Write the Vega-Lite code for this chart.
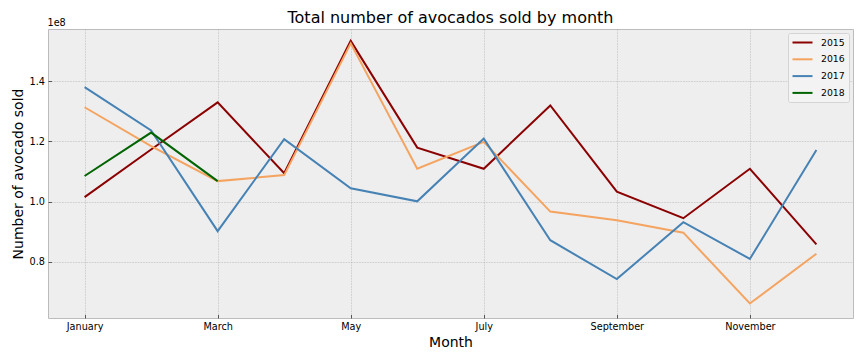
{
  "$schema": "https://vega.github.io/schema/vega-lite/v6.json",
  "autosize": {"type": "none"},
  "width": 805,
  "height": 289,
  "padding": {"left": 48, "top": 29, "right": 11, "bottom": 42},
  "background": "white",
  "title": {
    "text": "Total number of avocados sold by month",
    "font": "DejaVu Sans",
    "fontSize": 16,
    "fontWeight": "normal",
    "color": "#000000",
    "frame": "group",
    "anchor": "middle",
    "baseline": "alphabetic",
    "offset": 6,
    "dy": 27.5
  },
  "config": {
    "view": {"fill": "#eeeeee", "stroke": "#bcbcbc", "strokeWidth": 1},
    "axis": {
      "labelFont": "DejaVu Sans",
      "labelFontSize": 9.7,
      "labelColor": "#000000",
      "titleFont": "DejaVu Sans",
      "titleFontSize": 14,
      "titleFontWeight": "normal",
      "titleColor": "#000000",
      "domain": false,
      "gridColor": "#b2b2b2",
      "gridDash": [1.8, 0.9],
      "gridWidth": 0.5,
      "tickColor": "#333333",
      "tickWidth": 0.8,
      "tickSize": -3.5,
      "labelPadding": 7
    },
    "legend": {
      "labelFont": "DejaVu Sans",
      "labelFontSize": 9.3,
      "labelColor": "#000000"
    }
  },
  "data": {
    "values": [
      {"month": 1, "year": "2015", "value": 101500000},
      {"month": 2, "year": "2015", "value": 117300000},
      {"month": 3, "year": "2015", "value": 132900000},
      {"month": 4, "year": "2015", "value": 109400000},
      {"month": 5, "year": "2015", "value": 153300000},
      {"month": 6, "year": "2015", "value": 117900000},
      {"month": 7, "year": "2015", "value": 110900000},
      {"month": 8, "year": "2015", "value": 131900000},
      {"month": 9, "year": "2015", "value": 103300000},
      {"month": 10, "year": "2015", "value": 94500000},
      {"month": 11, "year": "2015", "value": 110900000},
      {"month": 12, "year": "2015", "value": 85800000},
      {"month": 1, "year": "2016", "value": 131300000},
      {"month": 2, "year": "2016", "value": 118400000},
      {"month": 3, "year": "2016", "value": 106800000},
      {"month": 4, "year": "2016", "value": 108800000},
      {"month": 5, "year": "2016", "value": 152500000},
      {"month": 6, "year": "2016", "value": 110900000},
      {"month": 7, "year": "2016", "value": 119800000},
      {"month": 8, "year": "2016", "value": 96700000},
      {"month": 9, "year": "2016", "value": 93800000},
      {"month": 10, "year": "2016", "value": 89700000},
      {"month": 11, "year": "2016", "value": 66200000},
      {"month": 12, "year": "2016", "value": 82700000},
      {"month": 1, "year": "2017", "value": 138000000},
      {"month": 2, "year": "2017", "value": 123600000},
      {"month": 3, "year": "2017", "value": 90200000},
      {"month": 4, "year": "2017", "value": 120700000},
      {"month": 5, "year": "2017", "value": 104400000},
      {"month": 6, "year": "2017", "value": 100100000},
      {"month": 7, "year": "2017", "value": 120900000},
      {"month": 8, "year": "2017", "value": 87200000},
      {"month": 9, "year": "2017", "value": 74300000},
      {"month": 10, "year": "2017", "value": 93200000},
      {"month": 11, "year": "2017", "value": 81000000},
      {"month": 12, "year": "2017", "value": 117100000},
      {"month": 1, "year": "2018", "value": 108500000},
      {"month": 2, "year": "2018", "value": 122900000},
      {"month": 3, "year": "2018", "value": 106800000}
    ]
  },
  "layer": [
    {
      "mark": {"type": "line", "strokeWidth": 2, "clip": true},
      "encoding": {
        "x": {
          "field": "month",
          "type": "quantitative",
          "scale": {"domain": [0.45, 12.55], "nice": false, "zero": false},
          "axis": {
            "values": [1, 3, 5, 7, 9, 11],
            "labelExpr": "['','January','February','March','April','May','June','July','August','September','October','November','December'][datum.value]",
            "title": "Month",
            "titleY": 28.4,
            "titleBaseline": "alphabetic"
          }
        },
        "y": {
          "field": "value",
          "type": "quantitative",
          "scale": {"domain": [61400000, 157250000], "nice": false, "zero": false},
          "axis": {
            "values": [80000000, 100000000, 120000000, 140000000],
            "labelExpr": "format(datum.value / 1e8, '.1f')",
            "title": "Number of avocado sold",
            "titleX": -25.5,
            "titleY": 144.5,
            "titleBaseline": "alphabetic"
          }
        },
        "color": {
          "field": "year",
          "type": "nominal",
          "scale": {
            "domain": ["2015", "2016", "2017", "2018"],
            "range": ["#8b0000", "#f4a460", "#4682b4", "#006400"]
          },
          "legend": {
            "title": null,
            "orient": "top-right",
            "offset": 4,
            "padding": 3.5,
            "symbolType": "M-1,0H3",
            "symbolSize": 100,
            "symbolStrokeWidth": 2,
            "labelOffset": 17.5,
            "rowPadding": 4.8,
            "fillColor": "#f3f3f3",
            "strokeColor": "#d4d4d4",
            "cornerRadius": 2
          }
        }
      }
    },
    {
      "mark": {"type": "line", "strokeOpacity": 0},
      "encoding": {
        "x": {"field": "month", "type": "quantitative"},
        "y": {
          "field": "value",
          "type": "quantitative",
          "axis": {
            "orient": "left",
            "title": "1e8",
            "titleAngle": 0,
            "titleX": -1,
            "titleY": -4,
            "titleAlign": "left",
            "titleBaseline": "alphabetic",
            "titleFontSize": 9.7,
            "labels": false,
            "ticks": false,
            "grid": false,
            "domain": false
          }
        }
      }
    }
  ],
  "resolve": {"axis": {"y": "independent"}}
}
